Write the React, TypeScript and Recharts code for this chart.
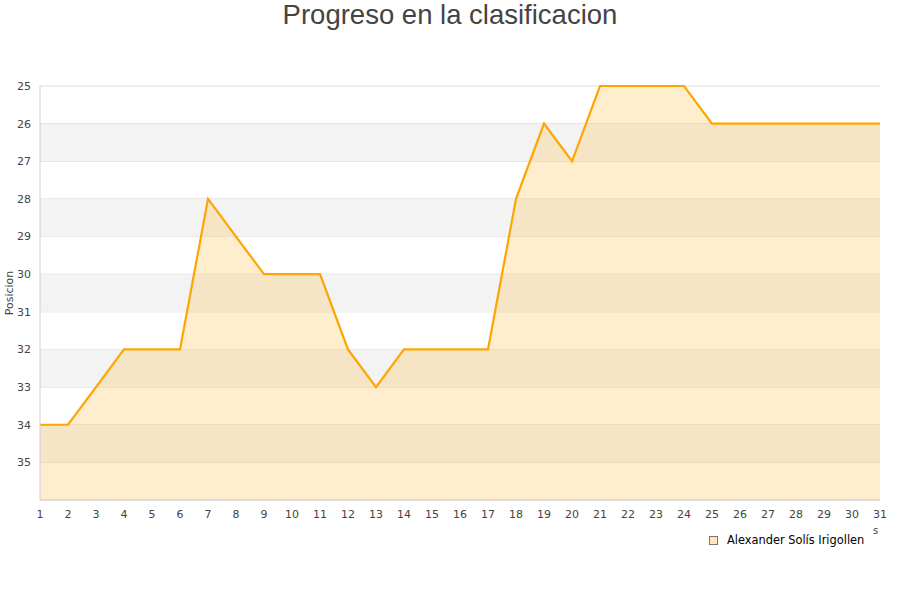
import { AreaChart, Area, XAxis, YAxis, CartesianGrid, ReferenceArea, Legend } from 'recharts';

const days = [1, 2, 3, 4, 5, 6, 7, 8, 9, 10, 11, 12, 13, 14, 15, 16, 17, 18, 19, 20, 21, 22, 23, 24, 25, 26, 27, 28, 29, 30, 31];
const positions = [34, 34, 33, 32, 32, 32, 28, 29, 30, 30, 30, 32, 33, 32, 32, 32, 32, 28, 26, 27, 25, 25, 25, 25, 26, 26, 26, 26, 26, 26, 26];
const yTicks = [25, 26, 27, 28, 29, 30, 31, 32, 33, 34, 35];
const bands = [26, 28, 30, 32, 34];

const playerName = 'Alexander Solís Irigollen';

const data = days.map((d, i) => ({ day: d, pos: positions[i] }));

const font = '"DejaVu Sans", Verdana, sans-serif';

const renderLegend = () => (
  <div style={{ position: 'absolute', left: 709, top: 0, display: 'flex', alignItems: 'center', fontFamily: font, fontSize: 11.4, color: '#000' }}>
    <span style={{ display: 'inline-block', width: 7, height: 7, border: '1px solid #777', background: '#fde6bc', marginRight: 9 }} />
    <span>{playerName}</span>
  </div>
);

export default function App() {
  return (
    <div style={{ position: 'absolute', left: 0, top: 0, width: 900, height: 600, background: '#fff' }}>
      <div
        style={{
          position: 'absolute',
          top: -1,
          left: 0,
          width: 900,
          textAlign: 'center',
          fontFamily: '"Liberation Sans", Arial, sans-serif',
          fontSize: 27.5,
          color: '#444',
          lineHeight: '32px',
        }}
      >
        Progreso en la clasificacion
      </div>
      <AreaChart width={900} height={600} data={data} margin={{ top: 86, right: 20, bottom: 70, left: 0 }}>
        {bands.map((b) => (
          <ReferenceArea key={b} y1={b} y2={b + 1} fill="#f3f3f3" fillOpacity={1} stroke="none" ifOverflow="visible" />
        ))}
        <CartesianGrid vertical={false} stroke="#dddddd" />
        <XAxis
          dataKey="day"
          type="category"
          tickLine={false}
          axisLine={{ stroke: '#d0d0d0' }}
          tick={{ fontSize: 11, fill: '#444', fontFamily: font }}
          interval={0}
          tickMargin={4}
          height={30}
        />
        <YAxis
          reversed
          type="number"
          domain={[25, 36]}
          ticks={yTicks}
          tickLine={false}
          axisLine={{ stroke: '#d0d0d0' }}
          tick={{ fontSize: 11, fill: '#444', fontFamily: font }}
          width={40}
          tickMargin={3}
          interval={0}
          label={{ value: 'Posicion', angle: -90, position: 'insideLeft', offset: 9, style: { fontSize: 11, fill: '#444', fontFamily: font, textAnchor: 'middle' } }}
        />
        <YAxis yAxisId="right" orientation="right" width={0} tick={false} tickLine={false} axisLine={{ stroke: '#dddddd' }} />
        <Legend verticalAlign="bottom" align="left" wrapperStyle={{ top: 533, left: 0, width: 900 }} content={renderLegend} />
        <Area
          type="linear"
          dataKey="pos"
          name={playerName}
          baseValue={36}
          stroke="#ffa500"
          strokeWidth={2.2}
          fill="#ffc14a"
          fillOpacity={0.28}
          dot={false}
          activeDot={false}
          isAnimationActive={false}
        />
      </AreaChart>
      <div style={{ position: 'absolute', left: 873, top: 525, fontFamily: font, fontSize: 10, color: '#444' }}>s</div>
    </div>
  );
}
